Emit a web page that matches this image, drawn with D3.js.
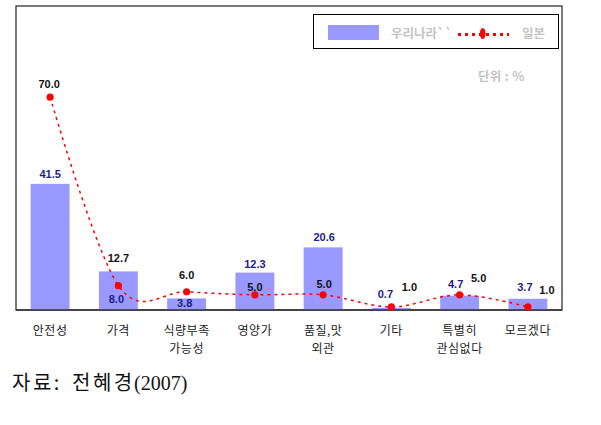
<!DOCTYPE html>
<html>
<head>
    <meta charset="utf-8" />
    <title>Korea vs Japan</title>
    <style>
        body { margin: 0; background: #fff; }
        text { font-family: "Liberation Sans", Arial, sans-serif; }
        .kr { font-family: "Noto Sans CJK KR", sans-serif; }
    </style>
</head>
<body>
<script src="https://d3js.org/d3.v7.min.js"></script>
<script>
    var categories = ["안전성", "가격", "식량부족\n가능성", "영양가", "품질,맛\n외관", "기타", "특별히\n관심없다", "모르겠다"];
    var korea = [41.5, 12.7, 3.8, 12.3, 20.6, 0.7, 4.7, 3.7];
    var japan = [70.0, 8.0, 6.0, 5.0, 5.0, 1.0, 5.0, 1.0];
    var seriesNames = ["우리나라``", "일본"];

    // label nudges (px) as placed in the original chart
    var koreaLabelOff = [[0,-10],[0,-13],[-2,5],[0,-9],[1,-10],[-6,-14],[-4,-12],[-3,-12]];
    var japanLabelOff = [[-1,-13],[-2,13],[0,-17],[0,-8],[1,-11],[18,-20],[19,-17],[19,-17]];

    var width = 601, height = 425;
    var plot = {left: 16, right: 562, top: 6, bottom: 310};

    var svg = d3.select("body").append("svg")
                .attr("width", width)
                .attr("height", height);

    var x = d3.scaleBand()
              .domain(categories)
              .range([plot.left, plot.right])
              .paddingInner(0.43)
              .paddingOuter(0.215);

    var y = d3.scaleLinear()
              .domain([0, 100])
              .range([plot.bottom, plot.top]);

    var cx = (d, i) => x(categories[i]) + x.bandwidth() / 2;

    // frame
    svg.append("rect")
       .attr("x", plot.left).attr("y", plot.top)
       .attr("width", plot.right - plot.left)
       .attr("height", plot.bottom - plot.top)
       .attr("fill", "none")
       .attr("stroke", "#333")
       .attr("stroke-width", 1.3);

    // bars
    svg.append("g").selectAll("rect")
       .data(korea)
       .enter().append("rect")
       .attr("x", (d, i) => x(categories[i]))
       .attr("y", d => y(d))
       .attr("width", x.bandwidth())
       .attr("height", d => y(0) - y(d))
       .attr("fill", "#9999ff");

    // bottom axis line over the bars
    svg.append("line")
       .attr("x1", plot.left).attr("x2", plot.right)
       .attr("y1", plot.bottom).attr("y2", plot.bottom)
       .attr("stroke", "#333").attr("stroke-width", 1.5);

    // japan line
    var line = d3.line()
                 .x(cx)
                 .y(d => y(d))
                 .curve(d3.curveCardinal.tension(0));

    svg.append("path")
       .datum(japan)
       .attr("d", line)
       .attr("fill", "none")
       .attr("stroke", "#ff0000")
       .attr("stroke-width", 1.5)
       .attr("stroke-dasharray", "3,4");

    svg.append("g").selectAll("circle")
       .data(japan)
       .enter().append("circle")
       .attr("cx", cx)
       .attr("cy", d => y(d))
       .attr("r", 3.6)
       .attr("fill", "#ff0000");

    // value labels
    svg.append("g").selectAll("text")
       .data(korea)
       .enter().append("text")
       .attr("x", (d, i) => cx(d, i) + koreaLabelOff[i][0])
       .attr("y", (d, i) => y(d) + koreaLabelOff[i][1] + 4)
       .attr("text-anchor", "middle")
       .attr("font-size", 11)
       .attr("font-weight", "bold")
       .attr("fill", (d, i) => i === 1 ? "#111" : "#1c1c8a")
       .text(d => d.toFixed(1));

    svg.append("g").selectAll("text")
       .data(japan)
       .enter().append("text")
       .attr("x", (d, i) => cx(d, i) + japanLabelOff[i][0])
       .attr("y", (d, i) => y(d) + japanLabelOff[i][1] + 4)
       .attr("text-anchor", "middle")
       .attr("font-size", 11)
       .attr("font-weight", "bold")
       .attr("fill", (d, i) => i === 1 ? "#1c1c8a" : "#111")
       .text(d => d.toFixed(1));

    // category labels
    var cat = svg.append("g").selectAll("text")
       .data(categories)
       .enter().append("text")
       .attr("class", "kr")
       .attr("text-anchor", "middle")
       .attr("font-size", 12)
       .attr("letter-spacing", 0.5)
       .attr("fill", "#222");

    cat.selectAll("tspan")
       .data((d, i) => d.split("\n").map(s => [s, i]))
       .enter().append("tspan")
       .attr("x", d => x(categories[d[1]]) + x.bandwidth() / 2)
       .attr("y", (d, j) => 334.5 + j * 18.6)
       .text(d => d[0]);

    // legend
    var lg = svg.append("g");
    lg.append("rect")
      .attr("x", 313.5).attr("y", 14.5)
      .attr("width", 245).attr("height", 34)
      .attr("fill", "#fff")
      .attr("stroke", "#000")
      .attr("stroke-width", 1);
    lg.append("rect")
      .attr("x", 328).attr("y", 25)
      .attr("width", 51).attr("height", 15)
      .attr("fill", "#9999ff");
    lg.append("text")
      .attr("class", "kr")
      .attr("x", 391).attr("y", 37.5)
      .attr("font-size", 12.5)
      .attr("font-weight", "bold")
      .attr("fill", "#c4c4c4")
      .text(seriesNames[0]);
    lg.append("line")
      .attr("x1", 458).attr("x2", 509)
      .attr("y1", 34.5).attr("y2", 34.5)
      .attr("stroke", "#ff0000")
      .attr("stroke-width", 3)
      .attr("stroke-dasharray", "3,4");
    lg.append("ellipse")
      .attr("cx", 482.7).attr("cy", 33.5)
      .attr("rx", 2.8).attr("ry", 5.6)
      .attr("fill", "#ff0000");
    lg.append("text")
      .attr("class", "kr")
      .attr("x", 522).attr("y", 37.5)
      .attr("font-size", 12.5)
      .attr("font-weight", "bold")
      .attr("fill", "#c4c4c4")
      .text(seriesNames[1]);

    svg.append("text")
       .attr("class", "kr")
       .attr("x", 478).attr("y", 80.5)
       .attr("font-size", 12.5)
       .attr("letter-spacing", 0.3)
       .attr("font-weight", "bold")
       .attr("fill", "#c4c4c4")
       .text("단위 : %");

    // source
    var src = svg.append("text")
       .attr("x", 12).attr("y", 390)
       .attr("font-size", 20)
       .attr("fill", "#111");
    src.append("tspan")
       .attr("class", "kr")
       .attr("letter-spacing", 2.5)
       .text("자료:");
    src.append("tspan")
       .attr("class", "kr")
       .attr("x", 72)
       .attr("letter-spacing", 2.5)
       .text("전혜경");
    src.append("tspan")
       .attr("x", 134)
       .style("font-family", "'Liberation Serif', serif")
       .text("(2007)");
</script>
</body>
</html>
